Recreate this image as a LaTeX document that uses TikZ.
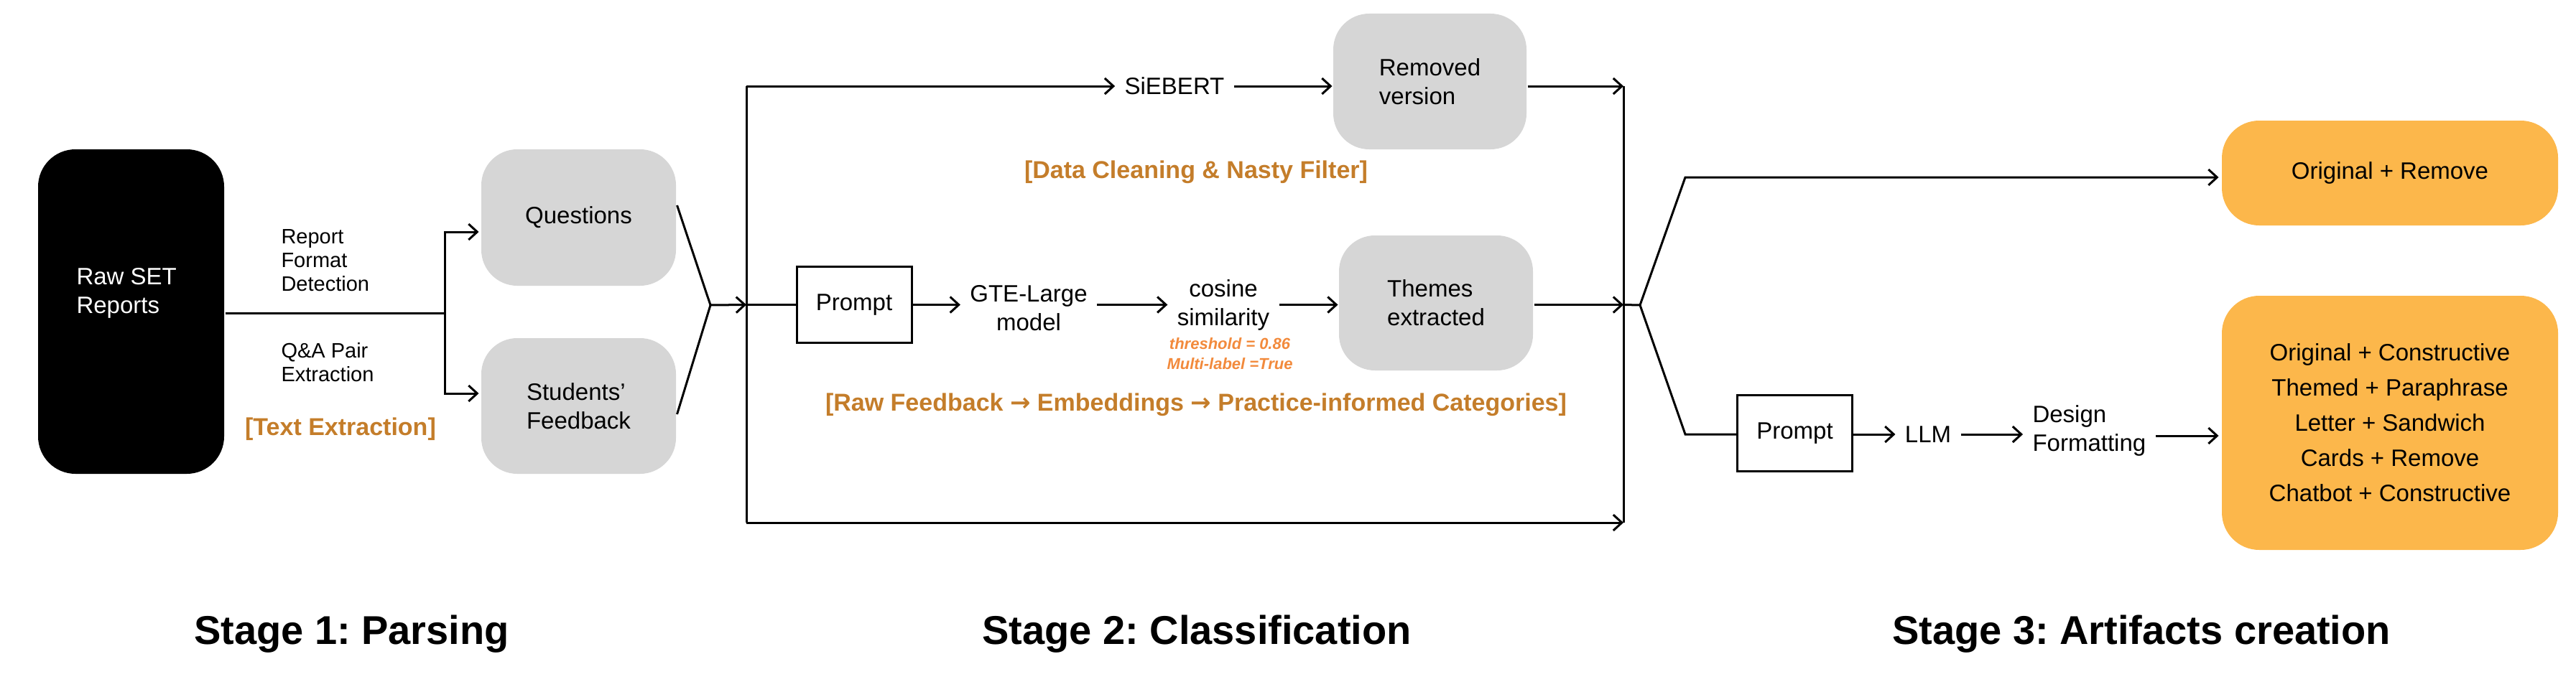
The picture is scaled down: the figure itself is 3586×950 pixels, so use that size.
\documentclass[tikz,border=0pt]{standalone}
\usepackage{fontspec}
\setmainfont{Liberation Sans}
\newfontfamily\arrowfont{DejaVu Sans}
\usetikzlibrary{arrows.meta,calc}
\definecolor{boxgray}{HTML}{D6D6D6}
\definecolor{boxorange}{HTML}{FCB74B}
\definecolor{tagorange}{HTML}{C47D2A}
\definecolor{noteorange}{HTML}{F28A3C}
\newcommand{\rarr}{{\arrowfont\bfseries →}}
\frenchspacing
\begin{document}
\begin{tikzpicture}[x=1pt,y=-1pt,line width=3pt,
  arr/.style={-{Straight Barb[length=12pt,width=22pt]}},
  every node/.style={font=\fontsize{33}{40}\selectfont},
  blackbox/.style={fill=black, rounded corners=52pt, inner sep=0pt},
  graybox/.style={fill=boxgray, rounded corners=50pt, align=left, inner sep=0pt},
  orangebox/.style={fill=boxorange, rounded corners=52pt, align=center, inner sep=0pt, minimum width=468pt},
  promptbox/.style={draw, fill=white, inner sep=0pt, minimum width=160pt, minimum height=106pt},
  txt/.style={inner xsep=12pt, inner ysep=2pt},
  lbl/.style={inner sep=0pt, align=left, font=\fontsize{29}{33}\selectfont},
  tag/.style={inner sep=0pt, text=tagorange, font=\fontsize{34}{40}\selectfont\bfseries},
  note/.style={inner sep=0pt, text=noteorange, font=\fontsize{22}{26}\selectfont\bfseries\itshape},
  stage/.style={inner sep=0pt, anchor=base, font=\fontsize{56}{60}\selectfont\bfseries}
]
\useasboundingbox (0,0) rectangle (3586,950);

% ---------- Stage 1 ----------
\node[blackbox, minimum width=259pt, minimum height=452pt] (raw) at (182.5,434) {};
\node[inner sep=0pt, anchor=west, align=left, text=white] (rawtxt) at (105,408) {Raw SET\\Reports};
\node[graybox, minimum width=271pt, minimum height=190pt] (q) at (805.5,303) {Questions};
\node[graybox, minimum width=271pt, minimum height=189pt] (fb) at (805.5,565.5) {Students’\\Feedback};
\node[lbl, anchor=west] (rfd) at (390,362.5) {Report\\Format\\Detection};
\node[lbl, anchor=west] (qa) at (390,505) {Q\&A Pair\\Extraction};
\node[tag] (tx) at (474,598) {[Text Extraction]};
\coordinate (j1) at (619,436);
\coordinate (c1) at (989,425);

\draw (raw.east |- j1) -- (j1);
\draw[arr] (j1) |- ($(q.west)+(-2,20)$);
\draw[arr] (j1) |- ($(fb.west)+(-2,-17.5)$);
\draw ($(q.east)+(0,-17)$) -- (c1);
\draw ($(fb.east)+(0,11.5)$) -- (c1);

% ---------- Stage 2 ----------
\coordinate (lt) at (1039,120);
\coordinate (lb) at (1039,728);
\coordinate (lm) at (1039,424.5);
\coordinate (rt) at (2260,120);
\coordinate (rb) at (2260,728);
\coordinate (rm) at (2260,424.5);
\coordinate (c2) at (2283,425);

\node[txt] (sieb) at (1635,120) {SiEBERT};
\node[graybox, minimum width=269pt, minimum height=189pt] (rem) at (1990.5,113.5) {Removed\\version};
\node[tag] (dc) at (1665,240) {[Data Cleaning \& Nasty Filter]};
\node[promptbox] (p1) at (1189,424.5) {Prompt};
\node[txt, align=center] (gte) at (1432,429) {GTE-Large\\model};
\node[txt, align=center] (cos) at (1703,424.5) {cosine\\similarity};
\node[note] (thr) at (1712,479) {threshold = 0.86};
\node[note] (ml) at (1712,507) {Multi-label =True};
\node[graybox, minimum width=270pt, minimum height=188pt] (th) at (1999,422) {Themes\\extracted};
\node[tag] (rf) at (1665,564) {[Raw Feedback \rarr{} Embeddings \rarr{} Practice-informed Categories]};

\draw (lt) -- (lb);
\draw (rt) -- (rb);
\draw[arr] (c1) -- (lm);
\draw (lm) -- (p1.west);
\draw[arr] (lt) -- (sieb.west |- lt);
\draw[arr] (sieb.east) -- (rem.west |- sieb.east);
\draw[arr] (rem.east |- rt) -- (rt);
\draw[arr] (p1.east) -- (gte.west |- p1.east);
\draw[arr] (gte.east |- p1.east) -- (cos.west |- p1.east);
\draw[arr] (cos.east |- p1.east) -- (th.west |- p1.east);
\draw[arr] (th.east |- rm) -- (rm);
\draw (rm) -- (c2);
\draw[arr] (lb) -- (rb);

% ---------- Stage 3 ----------
\coordinate (u2) at (2346,247);
\coordinate (d2) at (2346,605);
\node[orangebox, minimum height=146pt] (or) at (3327,241) {Original + Remove};
\node[orangebox, minimum height=354pt, font=\fontsize{33}{49}\selectfont] (ob) at (3327,589)
  {Original + Constructive\\Themed + Paraphrase\\Letter + Sandwich\\Cards + Remove\\Chatbot + Constructive};
\node[promptbox] (p2) at (2498.5,603.5) {Prompt};
\node[txt] (llm) at (2684,605) {LLM};
\node[txt, anchor=west, align=left] (dsg) at (2816,600) {Design\\Formatting};

\draw[arr] (c2) -- (u2) -- ($(or.west |- u2)+(-3,0)$);
\draw (c2) -- (d2) -- (p2.west |- d2);
\draw[arr] (p2.east |- llm) -- (llm.west);
\draw[arr] (llm.east) -- (dsg.west |- llm);
\draw[arr] ($(dsg.east)+(0,7)$) -- ($(ob.west)+(-3,18)$);

% ---------- Stage labels ----------
\node[stage] (s1) at (489.5,897) {Stage 1: Parsing};
\node[stage] (s2) at (1666,897) {Stage 2: Classification};
\node[stage] (s3) at (2981,897) {Stage 3: Artifacts creation};
\end{tikzpicture}
\end{document}
